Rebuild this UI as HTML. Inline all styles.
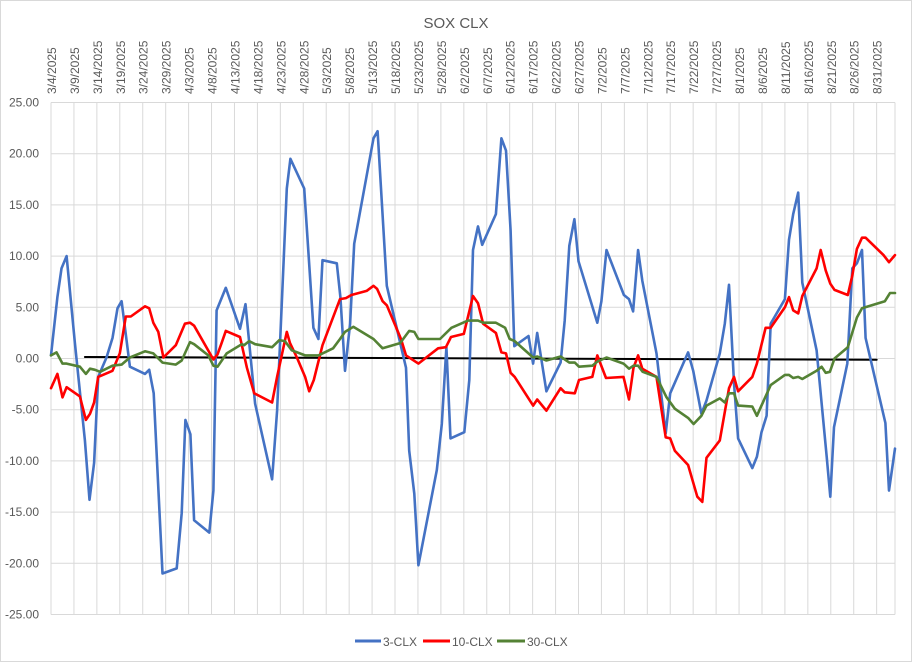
<!DOCTYPE html>
<html><head><meta charset="utf-8"><style>
body{margin:0;background:#fff;}
svg{display:block;font-family:"Liberation Sans",sans-serif;}
</style></head><body>
<svg id="chart" width="912" height="662" viewBox="0 0 912 662">
<rect x="0.5" y="0.5" width="911" height="661" fill="#fff" stroke="#d9d9d9"/>
<text x="456" y="28" text-anchor="middle" font-size="15" fill="#595959">SOX CLX</text>
<g id="grid"></g><g id="yaxis"></g><g id="xaxis"></g><g id="series"></g>
<g>
 <g><line x1="355" y1="641" x2="381" y2="641" stroke="#4472C4" stroke-width="3"/><text x="383" y="646" font-size="12" fill="#595959">3-CLX</text></g>
 <g><line x1="423" y1="641" x2="450" y2="641" stroke="#FF0000" stroke-width="3"/><text x="452" y="646" font-size="12" fill="#595959">10-CLX</text></g>
 <g><line x1="497" y1="641" x2="525" y2="641" stroke="#548235" stroke-width="3"/><text x="527" y="646" font-size="12" fill="#595959">30-CLX</text></g>
</g>
</svg>
<script>
const yTicks=[25,20,15,10,5,0,-5,-10,-15,-20,-25];
const xTickDays=[0,5,10,15,20,25,30,35,40,45,50,55,60,65,70,75,80,85,90,95,100,105,110,115,120,125,130,135,140,145,150,155,160,165,170,175,180];
const blueDays=[0,1.4,2.3,3.4,5.2,7.4,8.4,9.4,10.3,12.1,13.4,14.5,15.4,17.2,20.5,21.4,22.4,24.3,27.4,28.5,29.3,30.4,31.2,34.5,35.4,36.1,38.1,41.2,42.4,44.5,48.2,49.3,51.4,52.2,55.2,57.2,58.3,59.2,62.3,63.1,64.1,65.2,66.1,67.7,70.3,71.2,73.2,77.4,78.1,79.2,80.1,84.1,85.2,86.2,87.1,90.1,91.2,92,93.1,94,97,98.2,99.2,100.2,101,104.1,105.1,106,108,111.1,112,113,114.1,115,119.1,120,121.1,124.9,126,126.9,128,128.9,132,134,135,138.9,140,141.8,142.9,145.8,146.9,147.8,148.9,149.8,152.9,153.9,154.9,156,156.9,160,160.9,161.8,162.9,163.8,166.9,169.1,169.9,170.7,173.6,174.7,175.7,176.8,177.6,181.9,182.7,184];
const blueVals=[0.3,6.0,8.8,10.0,1.5,-8.0,-13.8,-10.2,-1.8,0.1,2.0,4.9,5.6,-0.8,-1.5,-1.1,-3.4,-21.0,-20.5,-15.1,-6.0,-7.4,-15.8,-17.0,-12.9,4.7,6.9,2.9,5.3,-4.4,-11.8,-5.1,16.6,19.5,16.6,3.0,1.9,9.6,9.3,6.0,-1.2,3.4,11.2,15.1,21.5,22.2,7.1,-0.9,-9.0,-13.2,-20.2,-10.9,-6.4,1.1,-7.8,-7.2,-2.1,10.6,12.9,11.1,14.1,21.5,20.3,12.5,1.2,2.2,-0.5,2.5,-3.2,-0.4,3.7,11.0,13.6,9.5,3.5,5.6,10.6,6.2,5.8,4.6,10.6,7.6,0.5,-7.3,-3.4,0.6,-1.2,-5.4,-4.1,0.5,3.4,7.2,-2.4,-7.8,-10.7,-9.6,-7.2,-5.6,3.4,5.8,11.6,14.1,16.2,7.4,0.8,-9.6,-13.5,-6.7,-0.5,8.8,9.3,10.6,2.0,-6.3,-12.9,-8.8];
const redDays=[0,1.4,2.5,3.4,6.3,7.6,8.5,9.4,10.3,13.4,15,16.3,17.4,20.5,21.4,22.3,23.4,24.5,27.2,29.2,30.3,31.2,35.4,36.3,37.2,38.1,41.2,42.7,44.3,48.2,49.3,51.4,52.1,53.6,55.4,56.3,57.3,59.2,63,64.3,65.5,68.8,70.3,71.1,72.3,73.2,76.3,77.4,80.1,84.4,86.1,87.2,90,92,93.1,94.2,97,98.2,99.2,100.2,101.1,105.1,106,108,111.1,112,114.2,115.1,118,119.1,121,124.8,126,127,128,128.9,132,134,135,136,138.9,140.9,142,142.9,145.8,147.8,148.9,149.8,152.9,153.9,155.8,156.9,160,160.9,161.8,162.9,163.8,166.9,167.8,168.9,169.9,170.8,173.7,174.7,175.7,176.8,177.6,181.5,182.7,184];
const redVals=[-2.9,-1.5,-3.8,-2.8,-3.7,-6.0,-5.4,-4.3,-1.8,-1.2,0.5,4.1,4.1,5.1,4.9,3.5,2.6,0.1,1.3,3.4,3.5,3.2,-0.1,0.4,1.5,2.7,2.1,-0.9,-3.4,-4.3,-1.8,2.6,1.5,0.1,-1.8,-3.2,-2.1,1.3,5.8,5.9,6.2,6.6,7.1,6.8,5.6,5.2,1.9,0.3,-0.5,1.0,1.1,2.1,2.4,6.1,5.4,3.4,2.5,0.6,0.5,-1.4,-1.8,-4.6,-4.0,-5.1,-2.9,-3.3,-3.4,-2.1,-1.8,0.3,-1.9,-1.8,-4.0,-0.9,0.3,-1.0,-1.8,-7.7,-7.8,-9.0,-10.4,-13.5,-14.0,-9.7,-8.0,-2.9,-1.8,-3.2,-1.8,-0.5,3.0,3.0,5.0,6.0,4.7,4.4,6.1,8.8,10.6,8.6,7.3,6.7,6.2,8.1,10.7,11.8,11.8,10.1,9.4,10.1];
const greenDays=[0,1.2,2.5,3.4,6.3,7.6,8.5,9.6,10.7,13.4,15.4,17.2,20.5,22.3,24.3,27.2,28.5,30.3,31.2,34.3,35.4,36.3,38.3,41.6,42.1,43.2,44.5,48.2,49.8,51,52.5,55.4,58.3,61.5,63,64.1,65.9,70.3,72.3,76.1,78.1,79.2,80.1,84.8,87.3,90.9,93.1,94.2,97,99,100,101.1,105.1,106,108,111.1,113,114.2,115.1,118,119.1,121.1,124.8,126,127,128,129,132,134.2,136,138.9,140.1,141.8,142.9,145.8,146.9,147.8,148.9,149.8,152.9,153.9,156.9,160,160.9,161.8,162.9,163.8,166.9,168,168.9,169.8,170.8,173.7,175.7,176.8,181.8,182.9,184];
const greenVals=[0.3,0.6,-0.5,-0.5,-0.8,-1.5,-1.0,-1.1,-1.3,-0.7,-0.6,0.1,0.7,0.5,-0.4,-0.6,-0.2,1.6,1.4,0.3,-0.7,-0.8,0.5,1.4,1.3,1.7,1.4,1.1,1.8,1.7,0.8,0.3,0.3,1.0,1.9,2.6,3.1,1.9,1.0,1.5,2.7,2.6,1.9,1.9,3.0,3.7,3.7,3.5,3.5,3.0,1.9,1.7,0.1,0.2,-0.2,0.2,-0.4,-0.4,-0.8,-0.7,-0.3,0.1,-0.5,-1.0,-0.7,-0.7,-1.3,-1.8,-3.8,-4.9,-5.8,-6.4,-5.6,-4.6,-3.9,-4.3,-3.4,-3.4,-4.6,-4.7,-5.6,-2.6,-1.6,-1.6,-1.9,-1.8,-2.0,-1.2,-0.8,-1.4,-1.3,0.0,1.1,4.0,4.9,5.6,6.4,6.4];
const trendDays=[7.4,180];
const trendVals=[0.15,-0.13];

const L=51,R=895,T=102.5,B=614.5,DMAX=184,VMAX=25,VMIN=-25;
const xs=d=>L+(d/DMAX)*(R-L);
const ys=v=>T+(VMAX-v)/(VMAX-VMIN)*(B-T);
const NS='http://www.w3.org/2000/svg';
function mk(tag,attrs,parent){const e=document.createElementNS(NS,tag);for(const k in attrs)e.setAttribute(k,attrs[k]);parent.appendChild(e);return e;}
const grid=document.getElementById('grid'),ya=document.getElementById('yaxis'),xa=document.getElementById('xaxis'),sg=document.getElementById('series');
yTicks.forEach(v=>{
 const ln=mk('line',{x1:L,x2:R,y1:ys(v),y2:ys(v),stroke:'#d9d9d9','stroke-width':1},grid);
 
 
 const t=mk('text',{x:39,y:ys(v)+4,'text-anchor':'end','font-size':12,fill:'#595959'},ya);
 t.textContent=v.toFixed(2);
 
 
});
const start=new Date(2025,2,4);
xTickDays.forEach(d=>{
 const ln=mk('line',{x1:xs(d),x2:xs(d),y1:T,y2:B,stroke:'#d9d9d9','stroke-width':1},grid);
 
 
 const dt=new Date(start.getTime());dt.setDate(dt.getDate()+d);
 const px=xs(d)+5,py=94;
 const t=mk('text',{x:px,y:py,'text-anchor':'start','font-size':12,fill:'#595959',transform:`rotate(-90 ${px} ${py})`},xa);
 t.textContent=(dt.getMonth()+1)+'/'+dt.getDate()+'/'+dt.getFullYear();
 
 
});
mk('line',{x1:R,x2:R,y1:T,y2:B,stroke:'#d9d9d9'},grid);
function series(days,vals,color,name,w){
 const p=mk('polyline',{points:days.map((d,i)=>xs(d).toFixed(1)+','+ys(vals[i]).toFixed(1)).join(' '),fill:'none',stroke:color,'stroke-width':w,'stroke-linejoin':'round','stroke-linecap':'round'},sg);
 
 
}
series(trendDays,trendVals,'#000000','trend-line',2);
series(blueDays,blueVals,'#4472C4','series-3-clx',2.6);
series(redDays,redVals,'#FF0000','series-10-clx',2.6);
series(greenDays,greenVals,'#548235','series-30-clx',2.6);
</script>
</body></html>
